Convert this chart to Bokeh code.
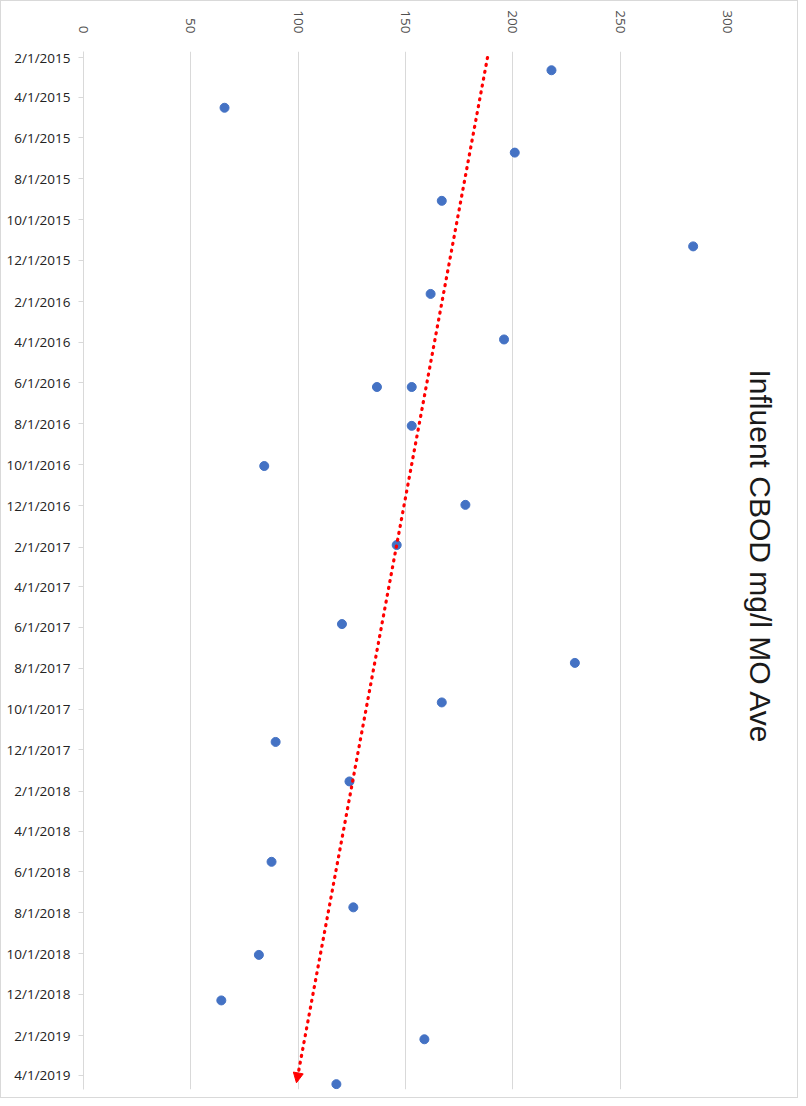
import math
import pandas as pd
from bokeh.plotting import figure
from bokeh.models import Range1d, FixedTicker, Arrow, NormalHead, Title, ColumnDataSource
from bokeh.embed import file_html
from bokeh.resources import INLINE

# ---- data ----
sample_dates = [
    "2015-02-20", "2015-04-17", "2015-06-23", "2015-09-03", "2015-11-10",
    "2016-01-20", "2016-03-28", "2016-06-07", "2016-06-07", "2016-08-04",
    "2016-10-03", "2016-11-30", "2017-01-29", "2017-05-27", "2017-07-24",
    "2017-09-21", "2017-11-19", "2018-01-17", "2018-05-17", "2018-07-24",
    "2018-10-03", "2018-12-10", "2019-02-06", "2019-04-14",
]
cbod_values = [
    218.0, 65.7, 200.9, 166.9, 284.0,
    161.7, 195.9, 136.7, 152.9, 152.9,
    84.2, 177.9, 145.9, 120.4, 228.9,
    166.9, 89.5, 123.9, 87.6, 125.7,
    81.7, 64.2, 158.8, 117.8,
]
date_tick_labels = [
    "2/1/2015", "4/1/2015", "6/1/2015", "8/1/2015", "10/1/2015", "12/1/2015",
    "2/1/2016", "4/1/2016", "6/1/2016", "8/1/2016", "10/1/2016", "12/1/2016",
    "2/1/2017", "4/1/2017", "6/1/2017", "8/1/2017", "10/1/2017", "12/1/2017",
    "2/1/2018", "4/1/2018", "6/1/2018", "8/1/2018", "10/1/2018", "12/1/2018",
    "2/1/2019", "4/1/2019",
]
value_ticks = [0, 50, 100, 150, 200, 250, 300]
trend_dates = ["2015-02-01", "2019-04-12"]
trend_values = [188.2, 99.2]
title_text = "Influent CBOD mg/l MO Ave"

# ---- convert dates to day offsets ----
base = pd.Timestamp("2015-02-01")


def to_day(ts):
    return float((ts - base).days)


sample_days = [to_day(pd.Timestamp(s)) for s in sample_dates]
tick_days = [to_day(pd.to_datetime(s, format="%m/%d/%Y")) for s in date_tick_labels]
trend_days = [to_day(pd.Timestamp(s)) for s in trend_dates]

source = ColumnDataSource(data=dict(value=cbod_values, day=sample_days))

p = figure(
    width=798, height=1098,
    x_range=Range1d(0, 300), y_range=Range1d(1541, -9),
    x_axis_location="above",
    min_border_left=82, min_border_top=50, min_border_bottom=10, min_border_right=72,
    output_backend="svg", toolbar_location=None,
    background_fill_color="white", border_fill_color="white",
)
p.outline_line_color = None

# value axis (top)
p.xaxis.ticker = FixedTicker(ticks=value_ticks)
p.xaxis.major_label_orientation = -math.pi / 2
p.xaxis.axis_line_color = None
p.xaxis.major_tick_line_color = None
p.xaxis.minor_tick_line_color = None
p.xaxis.major_label_standoff = 12
p.xaxis.major_label_text_font = "Open Sans"
p.xaxis.major_label_text_font_size = "13.5px"
p.xaxis.major_label_text_color = "#505050"

# date axis (left)
p.yaxis.ticker = FixedTicker(ticks=tick_days)
p.yaxis.major_label_overrides = {d: lab for d, lab in zip(tick_days, date_tick_labels)}
p.yaxis.axis_line_color = "#d9d9d9"
p.yaxis.major_tick_line_color = "#d9d9d9"
p.yaxis.major_tick_in = 0
p.yaxis.major_tick_out = 5
p.yaxis.minor_tick_line_color = None
p.yaxis.major_label_standoff = 8
p.yaxis.major_label_text_font = "Open Sans"
p.yaxis.major_label_text_font_size = "13.5px"
p.yaxis.major_label_text_color = "#222222"

p.xgrid.grid_line_color = "#d9d9d9"
p.xgrid.grid_line_width = 1
p.ygrid.grid_line_color = None

# points
p.scatter(x="value", y="day", source=source, size=9,
          fill_color="#4472C4", line_color="#4472C4")

# trend line with arrow head
p.add_layout(Arrow(
    end=NormalHead(size=10, fill_color="#ff0000", line_color="#ff0000", line_width=1),
    x_start=trend_values[0], y_start=trend_days[0],
    x_end=trend_values[1], y_end=trend_days[1],
    line_color="#ff0000", line_width=3.2, line_dash="1 6", line_cap="round",
))

p.add_layout(Title(text=title_text, align="left", vertical_align="top",
                   text_font="Liberation Sans",
                   text_font_size="30px", text_font_style="normal",
                   text_color="#1a1a1a", standoff=28, offset=318), "right")

p.styles = {"border": "1px solid #d9d9d9"}

open("out.html", "w").write(file_html(p, INLINE))
